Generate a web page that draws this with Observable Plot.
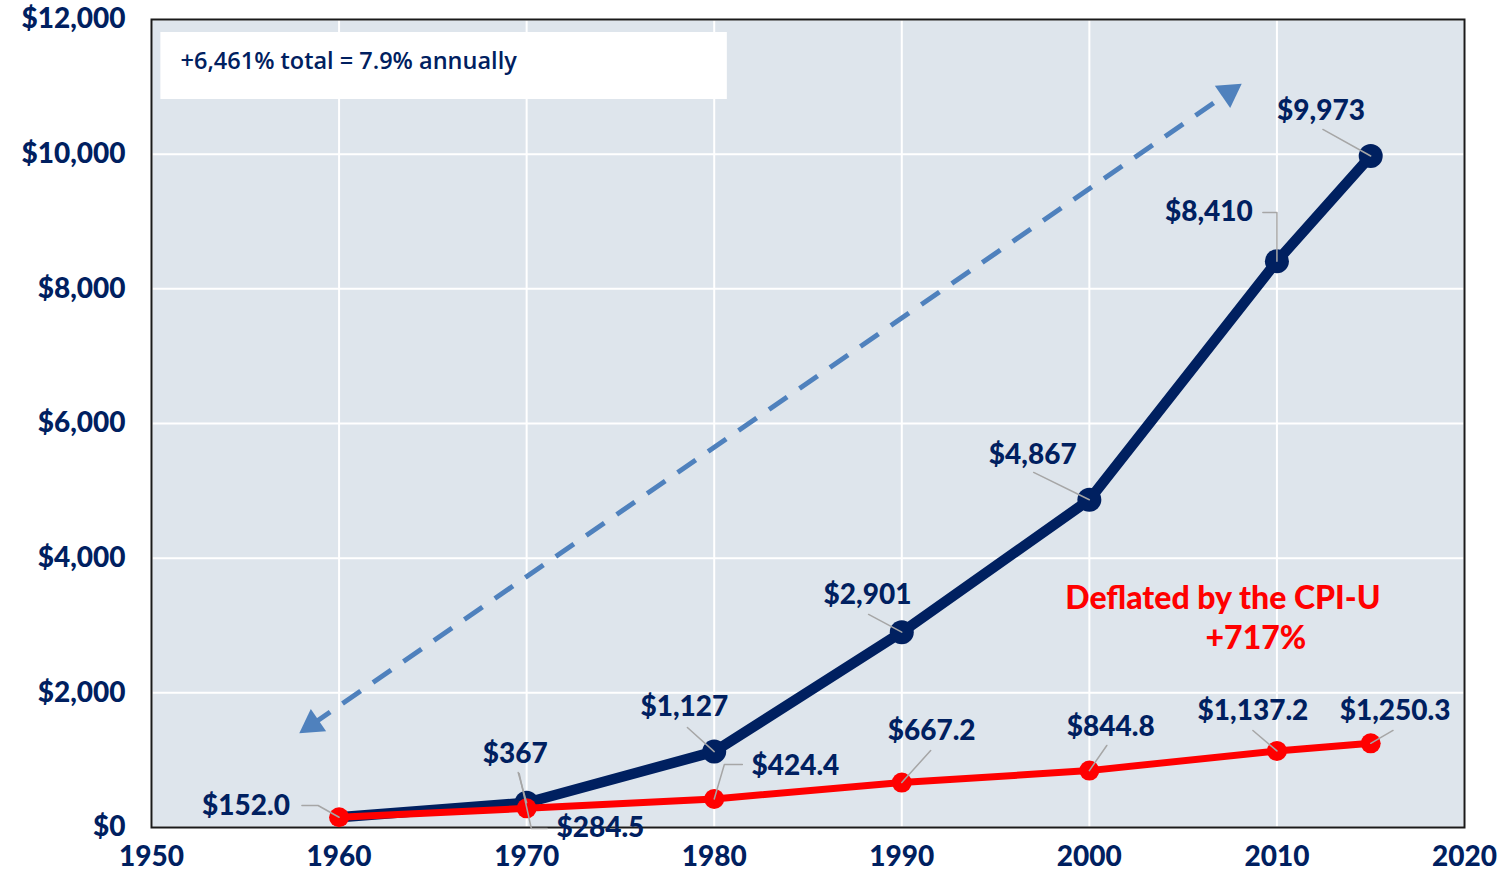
<!DOCTYPE html>
<html>
<head>
<meta charset="utf-8">
<script src="https://cdn.jsdelivr.net/npm/d3@7"></script>
<script src="https://cdn.jsdelivr.net/npm/@observablehq/plot@0.6"></script>
<style>
  html, body { margin: 0; padding: 0; background: white; }
</style>
</head>
<body>
<div id="chart"></div>
<script>
// ---- data ----
const years = [1960, 1970, 1980, 1990, 2000, 2010, 2015];
const nominal = [152, 367, 1127, 2901, 4867, 8410, 9973];
const real = [152.0, 284.5, 424.4, 667.2, 844.8, 1137.2, 1250.3];
const nominalLabels = ["", "$367", "$1,127", "$2,901", "$4,867", "$8,410", "$9,973"];
const realLabels = ["$152.0", "$284.5", "$424.4", "$667.2", "$844.8", "$1,137.2", "$1,250.3"];
const xTicks = [1950, 1960, 1970, 1980, 1990, 2000, 2010, 2020];
const yTicks = [0, 2000, 4000, 6000, 8000, 10000, 12000];

// label anchor positions (data coordinates)
const nominalLabelX = [null, 1969.39, 1978.41, 1988.17, 1996.98, 2006.37, 2012.35];
const nominalLabelY = [null, 1084, 1782, 3446, 5525, 9134, 10634];
const realLabelX = [1955.04, 1973.93, 1984.33, 1991.59, 2001.14, 2008.72, 2016.3];
const realLabelY = [312, -15, 906, 1426, 1485, 1723, 1723];

// leader lines (data coordinates), grouped by id
const leaderId = ["n1","n1","n2","n2","n3","n3","n4","n4","n5","n5","n5","n6","n6",
                  "r0","r0","r0","r1","r1","r1","r2","r2","r2","r3","r3","r4","r4","r5","r5","r6","r6"];
const leaderX = [1969.55,1970, 1978.57,1980, 1988.23,1990, 1997.03,2000, 2009.25,2010,2010, 2012.45,2015,
                 1958.02,1958.88,1960, 1971.1,1970.25,1969.6, 1981.5,1980.54,1980, 1991.54,1990, 2000.93,2000, 2008.72,2010, 2016.19,2015];
const leaderY = [817,367, 1485,1127, 3164,2901, 5273,4867, 9134,9134,8410, 10367,9973,
                 327,327,152, -15,-15,802, 936,936,424.4, 1144,667.2, 1218,844.8, 1441,1137.2, 1441,1250.3];

// annotation
const boxText = "+6,461% total = 7.9% annually";
const boxX = [1950.5, 1980.7];
const boxY = [10812, 11807];
const boxTextPos = [1951.55, 11377];
const arrowFrom = [1958.56, 1530];
const arrowTo = [2007.44, 10916];
const cpiText = ["Deflated by the CPI-U", "+717%"];
const cpiPos = [[2007.12, 3400], [2008.88, 2800]];

// ---- build tables ----
const nomData = years.map((y, i) => ({year: y, value: nominal[i], label: nominalLabels[i], lx: nominalLabelX[i], ly: nominalLabelY[i]}));
const realData = years.map((y, i) => ({year: y, value: real[i], label: realLabels[i], lx: realLabelX[i], ly: realLabelY[i]}));
const leaders = leaderId.map((id, i) => ({id, x: leaderX[i], y: leaderY[i]}));

const navy = "#002060";
const red = "#ff0000";
const arrowColor = "#4f81bd";
const font = "Lato, 'Noto Sans', sans-serif";

const angle = Math.atan2(643, 930) * 180 / Math.PI; // screen angle of the dashed arrow

const chart = Plot.plot({
  width: 1505,
  height: 871,
  marginLeft: 151,
  marginRight: 41,
  marginTop: 19,
  marginBottom: 44,
  style: {fontFamily: font, background: "white", overflow: "visible"},
  x: {domain: [1950, 2020], label: null},
  y: {domain: [0, 12000], label: null},
  marks: [
    Plot.frame({fill: "#dee5ec"}),
    Plot.gridX(xTicks, {stroke: "white", strokeOpacity: 1, strokeWidth: 2}),
    Plot.gridY(yTicks, {stroke: "white", strokeOpacity: 1, strokeWidth: 2}),
    Plot.frame({stroke: "#1a1a1a", strokeWidth: 2}),
    Plot.axisX(xTicks, {tickSize: 0, tickPadding: 19, tickFormat: d => String(d), fill: navy, fontSize: 28, fontWeight: 900, label: null}),
    Plot.axisY(yTicks, {tickSize: 0, tickPadding: 26, tickFormat: d => "$" + d3.format(",")(d), fill: navy, fontSize: 28, fontWeight: 900, label: null}),
    // annotation box
    Plot.rect([0], {x1: () => boxX[0], x2: () => boxX[1], y1: () => boxY[0], y2: () => boxY[1], fill: "white"}),
    Plot.text([boxText], {x: () => boxTextPos[0], y: () => boxTextPos[1], text: d => d, textAnchor: "start", fill: navy, fontSize: 23.5, fontWeight: 600, fontFamily: "'Open Sans', sans-serif"}),
    // dashed arrow
    Plot.link([0], {x1: () => arrowFrom[0], y1: () => arrowFrom[1], x2: () => arrowTo[0], y2: () => arrowTo[1], stroke: arrowColor, strokeWidth: 5, strokeDasharray: "22,15"}),
    Plot.dot([0], {x: () => arrowTo[0], y: () => arrowTo[1], symbol: "triangle", r: 10, fill: arrowColor, rotate: 90 - angle}),
    Plot.dot([0], {x: () => arrowFrom[0], y: () => arrowFrom[1], symbol: "triangle", r: 10, fill: arrowColor, rotate: 270 - angle}),
    // nominal series
    Plot.line(nomData, {x: "year", y: "value", stroke: navy, strokeWidth: 10.5, strokeLinejoin: "round"}),
    Plot.dot(nomData.filter(d => d.label), {x: "year", y: "value", r: 12, fill: navy}),
    // real series
    Plot.line(realData, {x: "year", y: "value", stroke: red, strokeWidth: 7, strokeLinejoin: "round"}),
    Plot.dot(realData, {x: "year", y: "value", r: 10, fill: red}),
    // leader lines
    Plot.line(leaders, {x: "x", y: "y", z: "id", stroke: "#a6a6a6", strokeWidth: 1.5}),
    // labels
    Plot.text(nomData.filter(d => d.label), {x: "lx", y: "ly", text: "label", fill: navy, fontSize: 28, fontWeight: 900}),
    Plot.text(realData, {x: "lx", y: "ly", text: "label", fill: navy, fontSize: 28, fontWeight: 900}),
    Plot.text(cpiText, {x: (d, i) => cpiPos[i][0], y: (d, i) => cpiPos[i][1], text: d => d, fill: red, fontSize: 32, fontWeight: 900})
  ]
});
document.getElementById("chart").appendChild(chart);
</script>
</body>
</html>
